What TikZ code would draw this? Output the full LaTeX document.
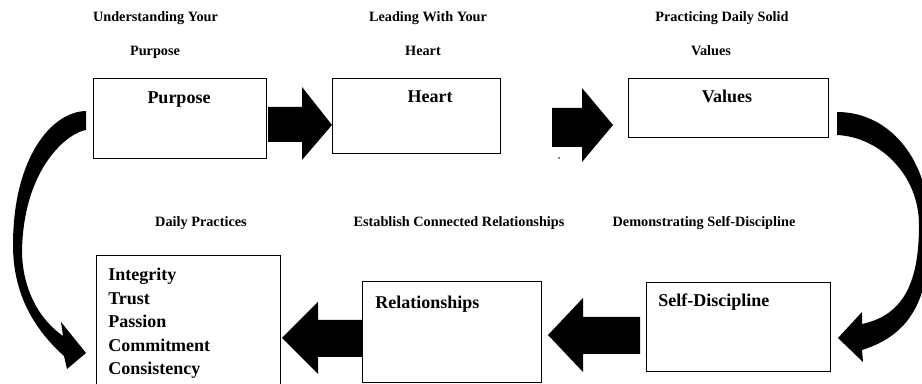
\documentclass[tikz,border=0pt]{standalone}
\usepackage{fontspec}
\setmainfont{Liberation Serif}
\usetikzlibrary{fit}
\begin{document}
\begin{tikzpicture}[x=0.75pt,y=-0.75pt,
  box/.style={draw=black, line width=0.75pt, inner sep=0pt},
  hdr/.style={font=\fontsize{10.7}{12}\selectfont\bfseries, inner sep=0pt, anchor=base},
  lab/.style={font=\fontsize{13.5}{15}\selectfont\bfseries, inner sep=0pt, anchor=base},
  labw/.style={lab, anchor=base west},
  blk/.style={fill=black}]
\useasboundingbox (0,0) rectangle (922,384);
\fill[white] (0,0) rectangle (922,384);

% boxes
\node[box, fit={(93,79) (266,159)}] (purpose) {};
\node[box, fit={(332,79) (500,154)}] (heart) {};
\node[box, fit={(628,79) (828,138)}] (values) {};
\node[box, fit={(96,256) (280,395)}] (daily) {};
\node[box, fit={(362,282) (541,383)}] (rel) {};
\node[box, fit={(646,283) (830,372)}] (self) {};

% headers
\node[hdr] (h1a) at (155.5,22) {Understanding Your};
\node[hdr] (h1b) at (155,56) {Purpose};
\node[hdr] (h2a) at (428,22) {Leading With Your};
\node[hdr] (h2b) at (423,56) {Heart};
\node[hdr] (h3a) at (722,22) {Practicing Daily Solid};
\node[hdr] (h3b) at (711,56) {Values};
\node[hdr] (h4) at (201,227) {Daily Practices};
\node[hdr] (h5) at (459,227) {Establish Connected Relationships};
\node[hdr] (h6) at (704,227) {Demonstrating Self-Discipline};

% box labels
\node[lab] (lp) at (179,103.5) {Purpose};
\node[lab] (lh) at (430,102.5) {Heart};
\node[lab] (lv) at (727,103) {Values};
\node[labw] (lr) at (375,309) {Relationships};
\node[labw] (ls) at (658,307) {Self-Discipline};
\node[labw] (l1) at (108,281) {Integrity};
\node[labw] (l2) at (108,305) {Trust};
\node[labw] (l3) at (108,328) {Passion};
\node[labw] (l4) at (108,352) {Commitment};
\node[labw] (l5) at (108,375) {Consistency};

% stray dot
\node[circle, fill=black, inner sep=0.5pt] (dot) at (559,158) {};

% block arrows
\fill[blk] (268,107) -- (302,107) -- (302,87) -- (332,125) -- (302,160) -- (302,142) -- (268,142) -- cycle;
\fill[blk] (552,108) -- (582,108) -- (582,88) -- (613,125) -- (582,162) -- (582,147) -- (552,147) -- cycle;
\fill[blk] (362,320) -- (318,320) -- (318,302) -- (282,338) -- (318,374) -- (318,357) -- (362,357) -- cycle;
\fill[blk] (640,317) -- (583,317) -- (583,298) -- (548,335) -- (583,372) -- (583,354) -- (640,354) -- cycle;

% left curved arrow
\fill[blk] (86,111) .. controls (50,112) and (13,160) .. (13,245)
  .. controls (13,295) and (35,330) .. (64,356)
  -- (67,369) -- (86,353) -- (61,322) -- (63,336)
  .. controls (40,320) and (22,290) .. (22,250)
  .. controls (24,165) and (70,132) .. (86,130) -- cycle;

% right curved arrow
\fill[blk] (837,112) .. controls (890,112) and (930,160) .. (930,230)
  .. controls (930,300) and (910,335) .. (862,350)
  -- (863,362) -- (838,338) -- (862,312) -- (862,324)
  .. controls (905,315) and (919,280) .. (919,225)
  .. controls (919,175) and (880,137) .. (837,135) -- cycle;
\end{tikzpicture}
\end{document}
